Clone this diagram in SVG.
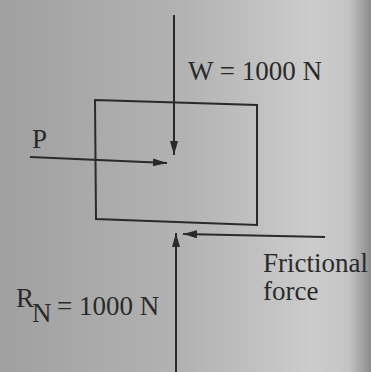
<svg xmlns="http://www.w3.org/2000/svg" width="371" height="372" viewBox="0 0 371 372">
<defs>
<linearGradient id="bg" x1="0" y1="0" x2="1" y2="0">
<stop offset="0" stop-color="#a0a0a0"/>
<stop offset="0.5" stop-color="#b3b3b3"/>
<stop offset="0.85" stop-color="#cccccc"/>
<stop offset="0.94" stop-color="#c4c4c4"/>
<stop offset="1" stop-color="#8c8c8c"/>
</linearGradient>
<marker id="ah" viewBox="0 0 14 8" refX="14" refY="4" markerWidth="14" markerHeight="8" markerUnits="userSpaceOnUse" orient="auto">
<path d="M0,0 L14,4 L0,8 Z" fill="#2a2a2a"/>
</marker>
<style>
.ln{stroke:#2a2a2a;stroke-width:2;fill:none}
.t{font-family:"Liberation Serif",serif;fill:#2a2a2a;font-size:27px}
</style>
</defs>
<rect width="371" height="372" fill="url(#bg)"/>
<g id="block">
<path class="ln" d="M95,100 L257,105 L257,225 L96,219 Z"/>
</g>
<g id="connectors">
<line class="ln" x1="174" y1="15" x2="174" y2="155" marker-end="url(#ah)"/>
<line class="ln" x1="30" y1="157" x2="167" y2="163" marker-end="url(#ah)"/>
<line class="ln" x1="325" y1="237" x2="183" y2="234" marker-end="url(#ah)"/>
<line class="ln" x1="176" y1="372" x2="176" y2="233" marker-end="url(#ah)"/>
</g>
<g id="labels">
<text class="t" x="16" y="307" font-size="20">R</text>
<text class="t" x="32" y="322" font-size="25">N</text>
<text class="t" x="57" y="315">= 1000 N</text>
<text class="t" x="188" y="80">W = 1000 N</text>
<text class="t" x="32" y="148" font-size="20">P</text>
<text class="t" x="263" y="272">Frictional</text>
<text class="t" x="263" y="300">force</text>
</g>
</svg>
